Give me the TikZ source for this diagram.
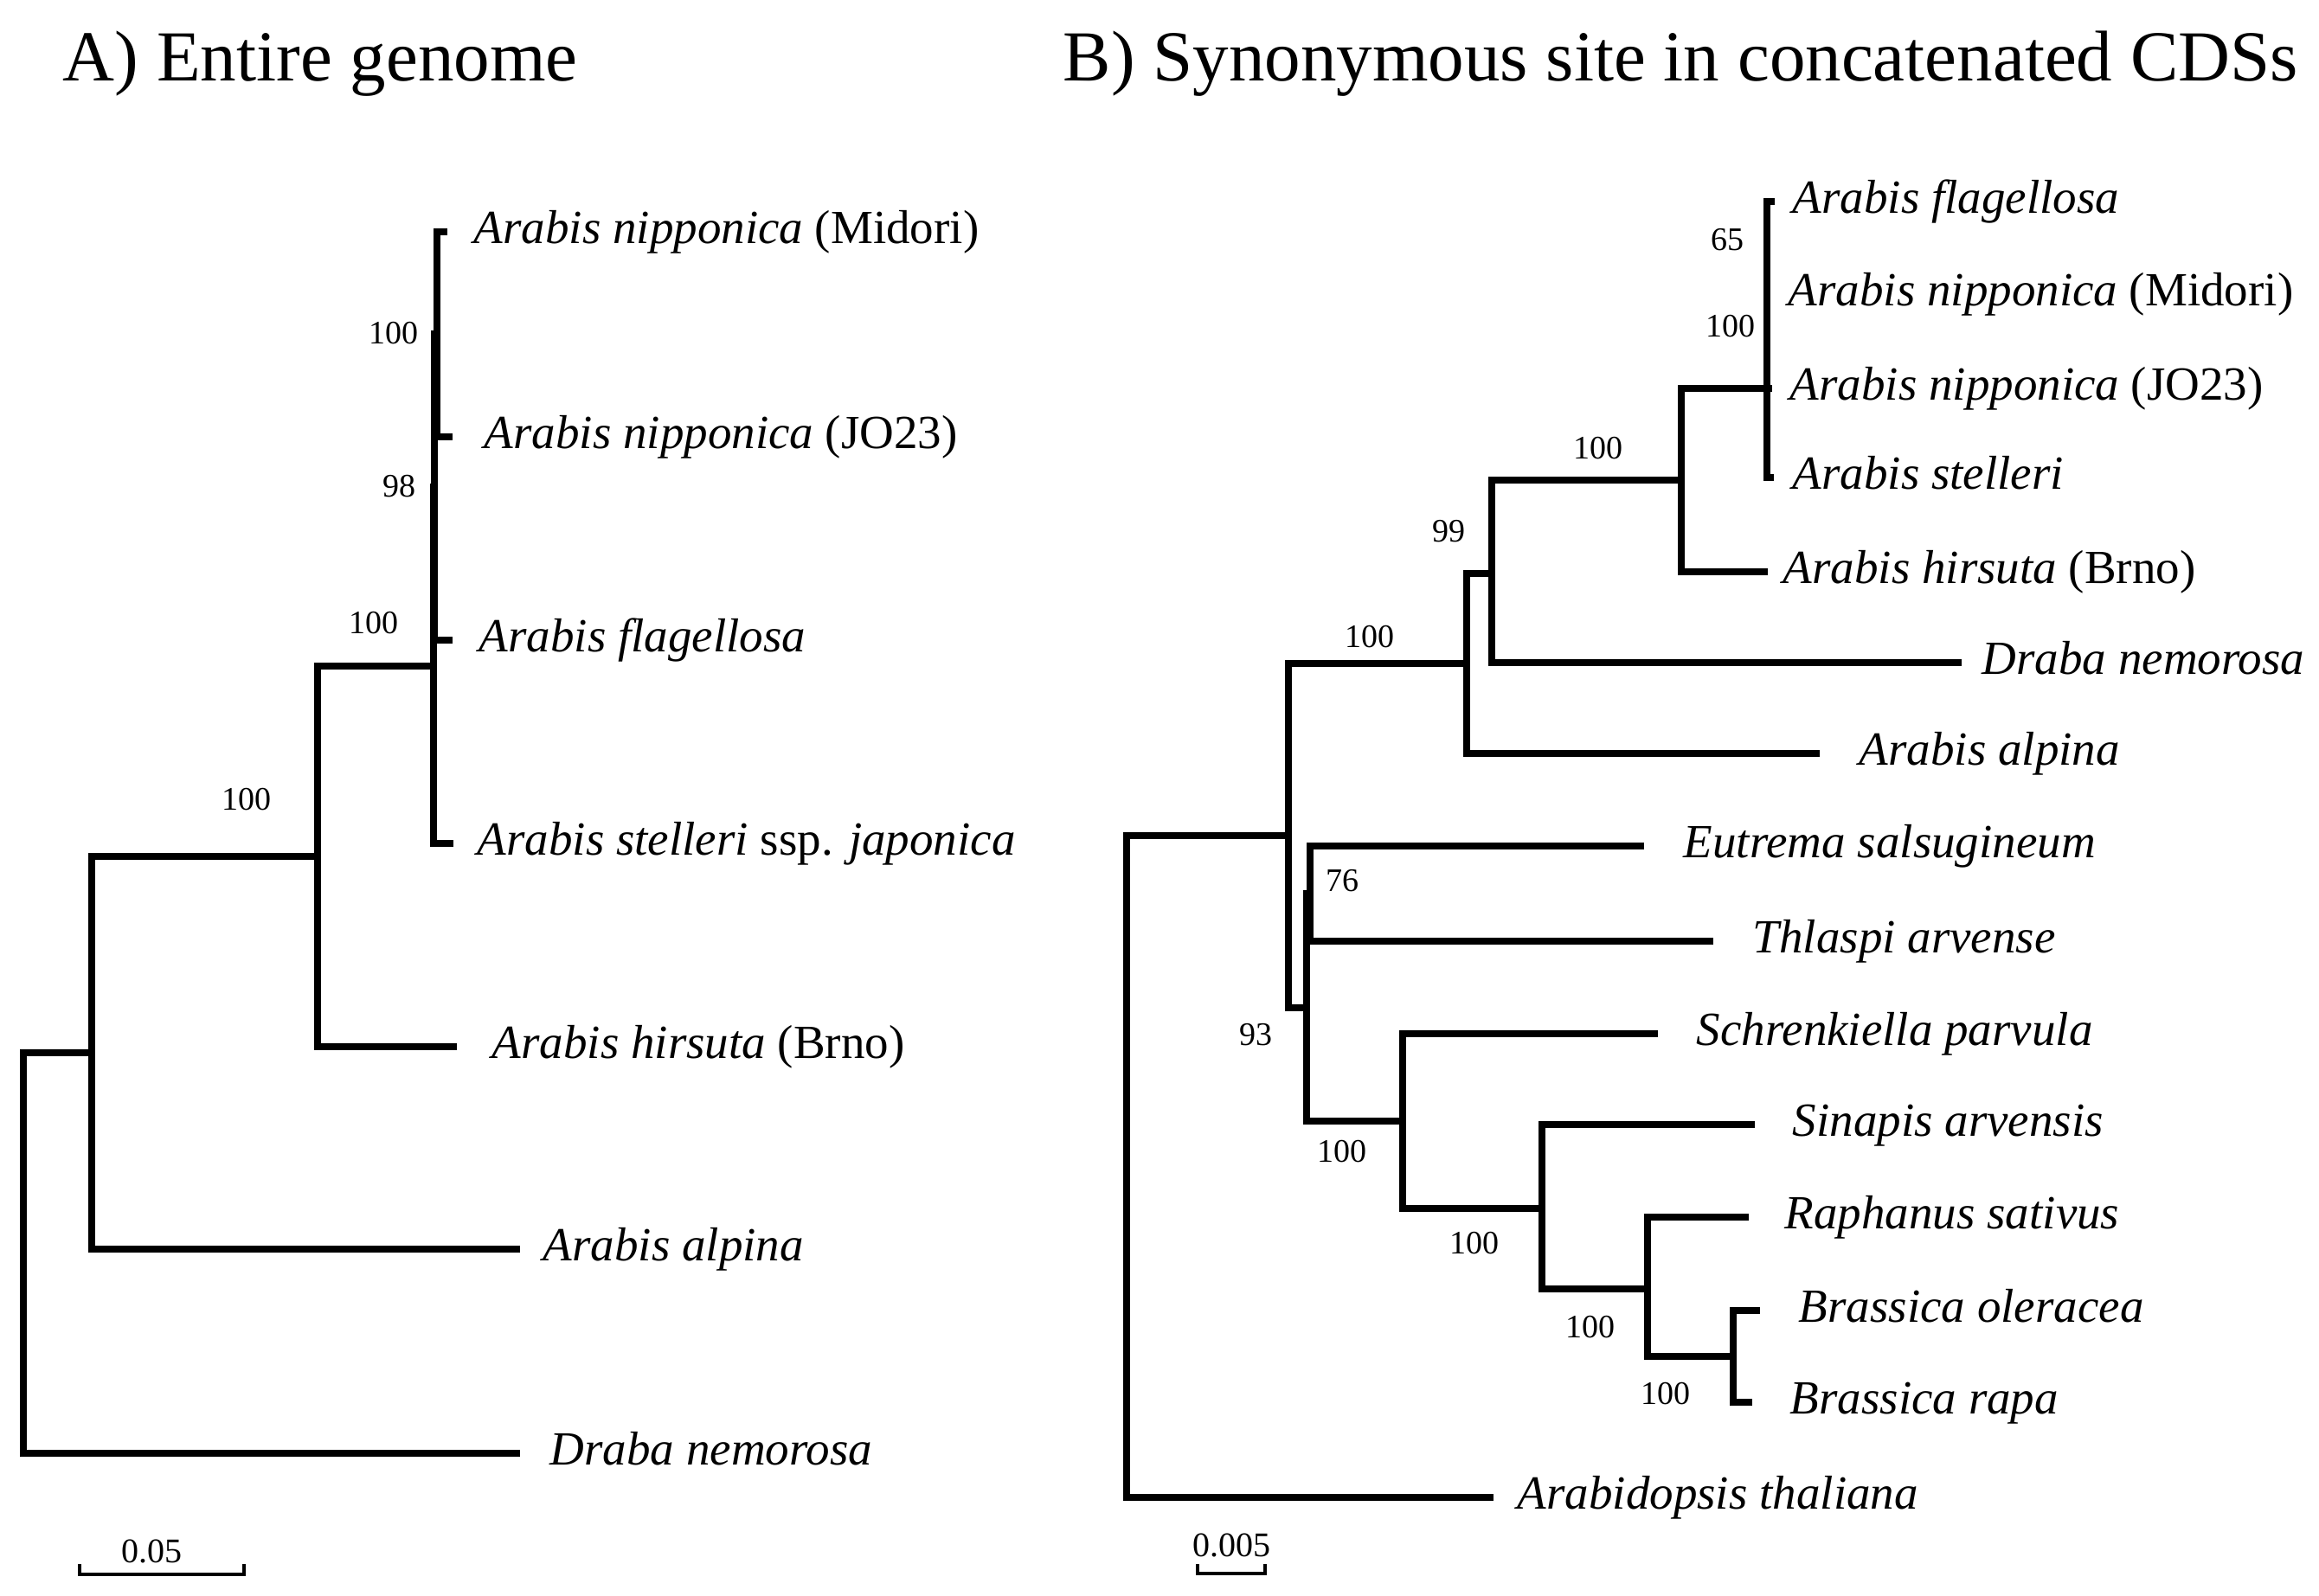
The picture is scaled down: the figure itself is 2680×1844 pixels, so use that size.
\documentclass[tikz,border=0pt]{standalone}
\usepackage{fontspec}
\setmainfont{Liberation Serif}
\tikzset{
  br/.style={line width=1.875pt, line join=miter},
  sbar/.style={line width=1.1pt, line join=miter},
  tiplab/.style={anchor=west, inner sep=0pt, text height=0.66em, text depth=0pt,
    font=\fontsize{13.75pt}{16pt}\selectfont\itshape},
  boot/.style={inner sep=0pt, text height=0.676em, text depth=0pt,
    font=\fontsize{9.5pt}{11pt}\selectfont},
  ttl/.style={anchor=base west, inner sep=0pt, font=\fontsize{20.75pt}{24pt}\selectfont},
}
\begin{document}
\begin{tikzpicture}[x=0.25pt, y=-0.25pt]
\useasboundingbox (0,0) rectangle (2680,1844);

% ---------------- Titles ----------------
\node[ttl] (titleA) at (72,93) {A) Entire genome};
\node[ttl] (titleB) at (1228,93) {B) Synonymous site in concatenated CDSs};

% ---------------- Panel A ----------------
\coordinate (tMid) at (517,268);
\coordinate (tJO)  at (523,505);
\coordinate (tFla) at (523,740);
\coordinate (tSte) at (524,975);
\coordinate (tHir) at (528,1210);
\coordinate (tAlp) at (601,1444);
\coordinate (tDra) at (601,1680);
\coordinate (a1) at (505,386);
\coordinate (a2) at (502,563);
\coordinate (a3) at (501,770);
\coordinate (a4) at (367,990);
\coordinate (a5) at (106,1217);
\coordinate (a6) at (27,1448);

\draw[br] (tMid) -| (a1) |- (tJO);
\draw[br] (a1) -| (a2) |- (tFla);
\draw[br] (a2) -| (a3) |- (tSte);
\draw[br] (a3) -| (a4) |- (tHir);
\draw[br] (a4) -| (a5) |- (tAlp);
\draw[br] (a5) -| (a6) |- (tDra);

\node[tiplab] (lMid) at (547,268) {Arabis nipponica \textup{(Midori)}};
\node[tiplab] (lJO)  at (559,505) {Arabis nipponica \textup{(JO23)}};
\node[tiplab] (lFla) at (553,740) {Arabis flagellosa};
\node[tiplab] (lSte) at (551,975) {Arabis stelleri \textup{ssp.} japonica};
\node[tiplab] (lHir) at (568,1210) {Arabis hirsuta \textup{(Brno)}};
\node[tiplab] (lAlp) at (627,1444) {Arabis alpina};
\node[tiplab] (lDra) at (635,1680) {Draba nemorosa};

\node[boot] (bA1) at (455,384) {100};
\node[boot] (bA2) at (461,561) {98};
\node[boot] (bA3) at (432,719) {100};
\node[boot] (bA4) at (285,923) {100};

% scale bar A
\coordinate (sA1) at (92,1808);
\coordinate (sA2) at (92,1820);
\coordinate (sA3) at (282,1820);
\coordinate (sA4) at (282,1808);
\draw[sbar] (sA1) -- (sA2) -- (sA3) -- (sA4);
\node[boot, font=\fontsize{10pt}{12pt}\selectfont] (sAlab) at (175,1793) {0.05};

% ---------------- Panel B ----------------
\coordinate (uFla)  at (2051,233);
\coordinate (uMid)  at (2046,340);
\coordinate (uJO)   at (2048,449);
\coordinate (uSte)  at (2050,552);
\coordinate (uHir)  at (2043,661);
\coordinate (uDra)  at (2267,766);
\coordinate (uAlp)  at (2103,871);
\coordinate (uEut)  at (1900,978);
\coordinate (uThl)  at (1980,1088);
\coordinate (uSch)  at (1916,1195);
\coordinate (uSin)  at (2028,1300);
\coordinate (uRap)  at (2021,1407);
\coordinate (uOle)  at (2034,1515);
\coordinate (uRapa) at (2025,1621);
\coordinate (uAth)  at (1726,1731);

\coordinate (b1)  at (2042,287);
\coordinate (b2)  at (2042,368);
\coordinate (b3)  at (2042,449);
\coordinate (b4)  at (1943,555);
\coordinate (b5)  at (1724,663);
\coordinate (b6)  at (1695,767);
\coordinate (b7)  at (1514,1033);
\coordinate (b8)  at (2003,1568);
\coordinate (b9)  at (1904,1490);
\coordinate (b10) at (1782,1397);
\coordinate (b11) at (1621,1296);
\coordinate (b12) at (1510,1165);
\coordinate (b13) at (1489,966);
\coordinate (b14) at (1302,1348);

\draw[br] (uFla) -| (b1) |- (uMid);
\draw[br] (b1) -| (b2) |- (uJO);
\draw[br] (b2) -| (b3) |- (uSte);
\draw[br] (b3) -| (b4) |- (uHir);
\draw[br] (b4) -| (b5) |- (uDra);
\draw[br] (b5) -| (b6) |- (uAlp);
\draw[br] (uEut) -| (b7) |- (uThl);
\draw[br] (uOle) -| (b8) |- (uRapa);
\draw[br] (uRap) -| (b9) |- (b8);
\draw[br] (uSin) -| (b10) |- (b9);
\draw[br] (uSch) -| (b11) |- (b10);
\draw[br] (b7) -| (b12) |- (b11);
\draw[br] (b6) -| (b13) |- (b12);
\draw[br] (b13) -| (b14) |- (uAth);

\node[tiplab] (mFla)  at (2071,233) {Arabis flagellosa};
\node[tiplab] (mMid)  at (2066,340) {Arabis nipponica \textup{(Midori)}};
\node[tiplab] (mJO)   at (2068,449) {Arabis nipponica \textup{(JO23)}};
\node[tiplab] (mSte)  at (2071,552) {Arabis stelleri};
\node[tiplab] (mHir)  at (2060,661) {Arabis hirsuta \textup{(Brno)}};
\node[tiplab] (mDra)  at (2290,766) {Draba nemorosa};
\node[tiplab] (mAlp)  at (2148,871) {Arabis alpina};
\node[tiplab] (mEut)  at (1945,978) {Eutrema salsugineum};
\node[tiplab] (mThl)  at (2025,1088) {Thlaspi arvense};
\node[tiplab] (mSch)  at (1960,1195) {Schrenkiella parvula};
\node[tiplab] (mSin)  at (2071,1300) {Sinapis arvensis};
\node[tiplab] (mRap)  at (2062,1407) {Raphanus sativus};
\node[tiplab] (mOle)  at (2078,1515) {Brassica oleracea};
\node[tiplab] (mRapa) at (2068,1621) {Brassica rapa};
\node[tiplab] (mAth)  at (1753,1731) {Arabidopsis thaliana};

\node[boot] (bB1)  at (1996,276) {65};
\node[boot] (bB2)  at (2000,376) {100};
\node[boot] (bB3)  at (1847,517) {100};
\node[boot] (bB4)  at (1674,613) {99};
\node[boot] (bB5)  at (1583,735) {100};
\node[boot] (bB6)  at (1551,1017) {76};
\node[boot] (bB7)  at (1451,1195) {93};
\node[boot] (bB8)  at (1551,1330) {100};
\node[boot] (bB9)  at (1704,1436) {100};
\node[boot] (bB10) at (1838,1533) {100};
\node[boot] (bB11) at (1925,1610) {100};

% scale bar B
\coordinate (sB1) at (1384,1808);
\coordinate (sB2) at (1384,1819);
\coordinate (sB3) at (1462,1819);
\coordinate (sB4) at (1462,1808);
\draw[sbar] (sB1) -- (sB2) -- (sB3) -- (sB4);
\node[boot, font=\fontsize{10pt}{12pt}\selectfont] (sBlab) at (1423,1786) {0.005};
\end{tikzpicture}
\end{document}
